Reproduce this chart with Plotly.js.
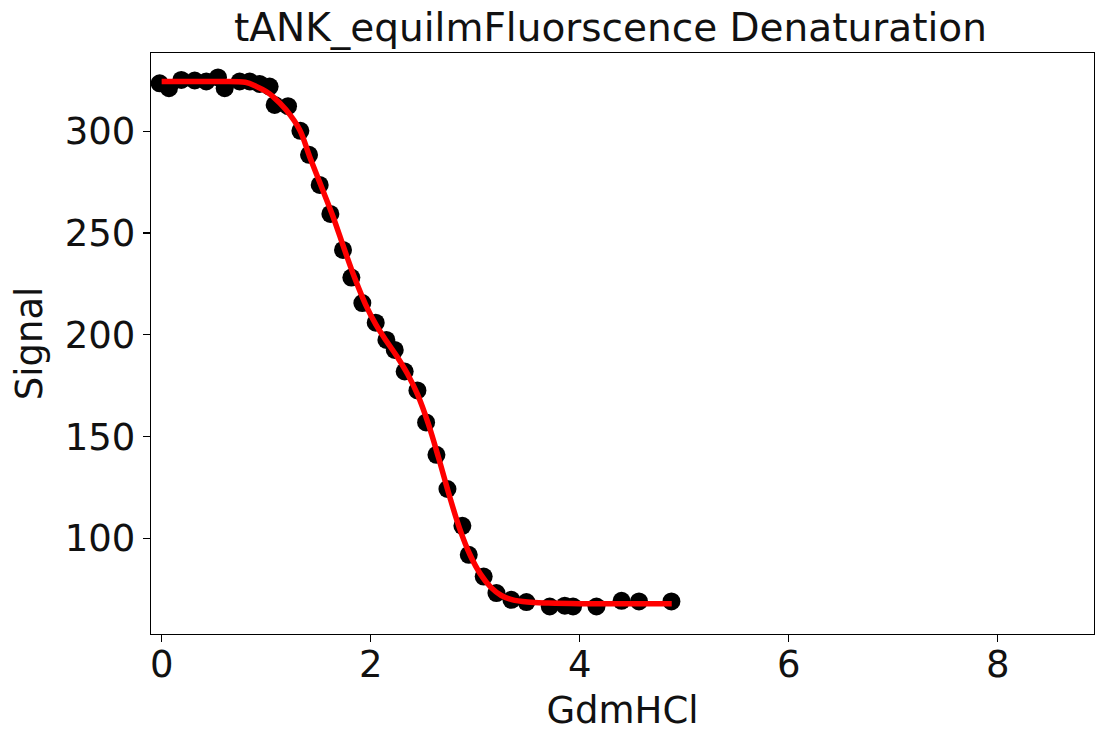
<!DOCTYPE html>
<html>
<head>
<meta charset="utf-8">
<script src="https://cdn.plot.ly/plotly-3.0.1.min.js"></script>
<style>html,body{margin:0;padding:0;background:#fff;}#chart{width:1096px;height:732px;}</style>
</head>
<body>
<div id="chart"></div>
<script>
// Measured data points (GdmHCl concentration, signal)
const denatX = [-0.019, 0.07, 0.188, 0.316, 0.427, 0.539, 0.603, 0.746, 0.842, 0.938, 1.033,
  1.081, 1.209, 1.327, 1.41, 1.512, 1.614, 1.735, 1.815, 1.92, 2.048, 2.15, 2.23, 2.325, 2.447,
  2.53, 2.629, 2.734, 2.877, 2.938, 3.081, 3.203, 3.346, 3.49, 3.713, 3.857, 3.936, 4.16, 4.4, 4.567, 4.877];
const signal = [323.5, 321.1, 325.2, 324.9, 324.4, 326.4, 321.1, 324.4, 324.4, 323.2, 321.9,
  312.9, 312.3, 300.2, 288.4, 273.6, 259.4, 241.7, 228.1, 215.6, 206.0, 197.5, 192.6, 182.0, 172.7,
  157.0, 141.1, 124.3, 106.2, 92.0, 81.3, 73.2, 69.9, 68.8, 66.6, 67.0, 66.6, 66.6, 69.4, 69.1, 69.1];

// Fitted curve
const fitX = [0, 0.5, 0.8, 0.906, 1.0, 1.065, 1.19, 1.32, 1.416, 1.528, 1.64, 1.75, 1.85, 1.95,
  2.05, 2.15, 2.25, 2.35, 2.45, 2.55, 2.65, 2.75, 2.85, 2.95, 3.05, 3.15, 3.25, 3.35, 3.5, 3.7, 4.0, 4.5, 4.88];
const fitY = [324.4, 324.4, 324.0, 322.0, 319.5, 317.0, 310.5, 300.7, 287.5, 272.8, 258.0, 241.7, 227.5, 215.0,
  205.0, 197.0, 189.5, 181.0, 170.5, 156.5, 139.5, 121.5, 105.0, 92.0, 82.5, 76.0, 72.0, 70.0, 68.8, 68.3, 68.0, 68.0, 68.0];

const titleText = "tANK_equilmFluorscence Denaturation";
const xLabel = "GdmHCl";
const yLabel = "Signal";
const xTicks = [0, 2, 4, 6, 8];
const yTicks = [100, 150, 200, 250, 300];

const font = "DejaVu Sans, sans-serif";
const fs = 37;

const traces = [
  {x: denatX, y: signal, mode: "markers", type: "scatter",
   marker: {color: "black", size: 18}, showlegend: false, hoverinfo: "none"},
  {x: fitX, y: fitY, mode: "lines", type: "scatter",
   line: {color: "red", width: 5.5, shape: "spline"}, showlegend: false, hoverinfo: "none"}
];

const layout = {
  width: 1096, height: 732,
  paper_bgcolor: "white", plot_bgcolor: "white",
  margin: {l: 151, r: 2, t: 53, b: 98},
  font: {family: font, color: "#111", size: fs},
  title: {text: titleText, font: {family: font, size: 39, color: "#111"}, x: 0.557, xanchor: "center", y: 0.962, yanchor: "middle"},
  xaxis: {
    range: [-0.102, 8.92], tickvals: xTicks, ticktext: xTicks.map(String),
    showgrid: false, zeroline: false, showline: true, mirror: true, linecolor: "black", linewidth: 1.2,
    ticks: "outside", ticklen: 7, tickwidth: 1.2, tickcolor: "black", ticklabelstandoff: -10,
    tickfont: {family: font, size: fs, color: "#111"},
    title: {text: xLabel, font: {family: font, size: fs, color: "#111"}, standoff: 12}
  },
  yaxis: {
    range: [53.1, 338.4], tickvals: yTicks, ticktext: yTicks.map(String),
    showgrid: false, zeroline: false, showline: true, mirror: true, linecolor: "black", linewidth: 1.2,
    ticks: "outside", ticklen: 7, tickwidth: 1.2, tickcolor: "black",
    tickfont: {family: font, size: fs, color: "#111"},
    title: {text: yLabel, font: {family: font, size: fs, color: "#111"}, standoff: 10}
  }
};

Plotly.newPlot("chart", traces, layout, {staticPlot: true, displayModeBar: false});
</script>
</body>
</html>
